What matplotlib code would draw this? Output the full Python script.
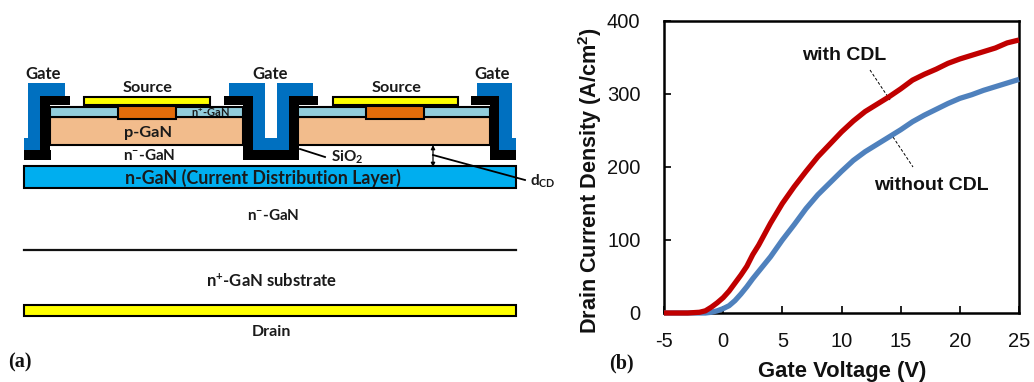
import matplotlib
matplotlib.use("Agg")
import matplotlib.pyplot as plt
from matplotlib.patches import Rectangle

plt.rcParams['font.family'] = ['Liberation Sans', 'DejaVu Sans']
plt.rcParams['mathtext.default'] = 'regular'
plt.rcParams['axes.unicode_minus'] = False

W, H = 1034, 382
voltage = [-5, -3, -2, -1.5, -1, -0.5, 0, 0.5, 1, 1.5, 2, 2.5, 3, 4, 5, 6, 7, 8, 9, 10, 11, 12, 13, 14, 15,
           16, 17, 18, 19, 20, 21, 22, 23, 24, 25]
with_cdl = [0, 0, 1, 3, 8, 14, 21, 30, 41, 52, 64, 80, 93, 123, 150, 173, 194, 214, 231, 248, 263, 276, 286, 296, 307,
            319, 327, 334, 342, 348, 353, 358, 363, 370, 374]
without_cdl = [0, 0, 0, 0, 1, 3, 6, 10, 17, 26, 36, 47, 57, 77, 100, 121, 143, 162, 178, 194, 209, 221, 231, 241, 251,
               262, 271, 279, 287, 294, 299, 305, 310, 315, 320]
x_ticks = [-5, 0, 5, 10, 15, 20, 25]
y_ticks = [0, 100, 200, 300, 400]

BLUE, BLACK, LB, OR, PG, YE, CD = '#0070C0', '#000000', '#92CDDC', '#E36C0A', '#F2BC8C', '#FFFF00', '#00AEEF'
# schematic layers: (x0, y0, x1, y1, fill, edge)
layers = [
    (24, 166, 516, 188, CD, BLACK),
    (24, 305, 516, 316, YE, BLACK),
    (50, 117, 243, 145, PG, BLACK), (298, 117, 490, 145, PG, BLACK),
    (50, 107, 243, 117, LB, BLACK), (298, 107, 490, 117, LB, BLACK),
    (118, 106, 176, 119, OR, BLACK), (366, 106, 424, 119, OR, BLACK),
    (84, 97, 210, 105, YE, BLACK), (333, 97, 458, 105, YE, BLACK),
]
gates = [
    (28, 83, 65, 96), (28, 83, 40, 150), (24, 138, 40, 150),
    (229, 83, 265, 96), (253, 83, 265, 150), (253, 138, 289, 150),
    (277, 83, 313, 96), (277, 83, 289, 150),
    (477, 83, 512, 96), (499, 83, 512, 150), (499, 138, 516, 150),
]
oxides = [
    (40, 96, 70, 105), (40, 96, 50, 160), (24, 150, 51, 160),
    (224, 96, 253, 105), (243, 96, 253, 160), (243, 150, 299, 160),
    (289, 96, 318, 105), (289, 96, 299, 160),
    (471, 96, 499, 105), (490, 96, 499, 160), (490, 150, 516, 160),
]

fig = plt.figure(figsize=(W / 100, H / 100), dpi=100)
bg = fig.add_axes([0, 0, 1, 1])
bg.set_xlim(0, W)
bg.set_ylim(H, 0)
bg.axis('off')

def box(x0, y0, x1, y1, fc, ec='none', lw=1.5, z=2):
    bg.add_patch(Rectangle((x0, y0), x1 - x0, y1 - y0, fc=fc, ec=ec, lw=lw, zorder=z))

for g in gates:
    box(*g, BLUE, z=2)
for l in layers:
    box(l[0], l[1], l[2], l[3], l[4], l[5], z=3)
for o in oxides:
    box(*o, BLACK, z=4)
bg.plot([24, 516], [250, 250], color='#111111', lw=1.6)

sch = dict(family='Lato', weight='bold', color='#1a1a1a', ha='center', va='center', zorder=6)
for x in (43, 270, 492):
    bg.text(x, 74, 'Gate', fontsize=12, **sch)
for x in (148, 397):
    bg.text(x, 88.5, 'Source', fontsize=11.7, **sch)
bg.text(210, 112, 'n$^{+}$-GaN', fontsize=8, **sch)
bg.text(148, 133, 'p-GaN', fontsize=11.8, **sch)
bg.text(149, 155.5, 'n$^{-}$-GaN', fontsize=11, **sch)
bg.text(263, 177.5, 'n-GaN (Current Distribution Layer)', fontsize=12.8, **sch)
bg.text(273, 215.5, 'n$^{-}$-GaN', fontsize=11, **sch)
bg.text(272, 281.5, 'n$^{+}$-GaN substrate', fontsize=12, **sch)
bg.text(271, 331.5, 'Drain', fontsize=11.5, **sch)
bg.text(347, 157, 'SiO$_{2}$', fontsize=11, **sch)
bg.text(543, 181, 'd$_{CD}$', fontsize=11, **sch)
bg.plot([300, 325], [149, 157], color='k', lw=1.3, zorder=5)
bg.plot([433, 525], [155, 180], color='k', lw=1.3, zorder=5)
bg.annotate('', xy=(433, 145), xytext=(433, 167),
            arrowprops=dict(arrowstyle='<|-|>', color='k', lw=0.9, mutation_scale=6, shrinkA=0, shrinkB=0), zorder=5)
serif = dict(family='Liberation Serif', weight='bold', fontsize=14.5, color='#111111', va='center')
bg.text(8, 362, '(a)', **serif)
bg.text(609, 363, '(b)', **serif)

ax = fig.add_axes([664 / W, 1 - 313 / H, (1019 - 664) / W, (313 - 21) / H])
ax.patch.set_alpha(0)
ax.plot(voltage, without_cdl, color='#4F81BD', lw=3.8, clip_on=False, solid_capstyle='butt', zorder=3)
ax.plot(voltage, with_cdl, color='#C00000', lw=3.8, clip_on=False, solid_capstyle='butt', zorder=4)
ax.set_xlim(-5, 25)
ax.set_ylim(0, 400)
ax.set_xticks(x_ticks)
ax.set_yticks(y_ticks)
ax.tick_params(direction='in', length=5, width=1.3, labelsize=14.5, colors='#111111')
ax.tick_params(axis='x', pad=14)
ax.tick_params(axis='y', pad=17)
for s in ax.spines.values():
    s.set_linewidth(1.8)
bg.text(842.5, 372, 'Gate Voltage (V)', fontsize=15.8, weight='bold', ha='center', va='center', color='#111111')
bg.text(590, 180.5, 'Drain Current Density (A/cm$^{2}$)', fontsize=15.6, weight='bold', rotation=90,
        ha='center', va='center', color='#111111')
bg.text(844, 55, 'with CDL', fontsize=14, weight='bold', ha='center', va='center', color='#111111')
bg.text(931, 186, 'without CDL', fontsize=14, weight='bold', ha='center', va='center', color='#111111')
bg.plot([870, 890], [70, 100], color='k', lw=0.7, ls=(0, (3, 2)), zorder=6)
bg.plot([893, 913], [137, 167], color='k', lw=0.7, ls=(0, (3, 2)), zorder=6)

fig.savefig('out.png', dpi=100)
